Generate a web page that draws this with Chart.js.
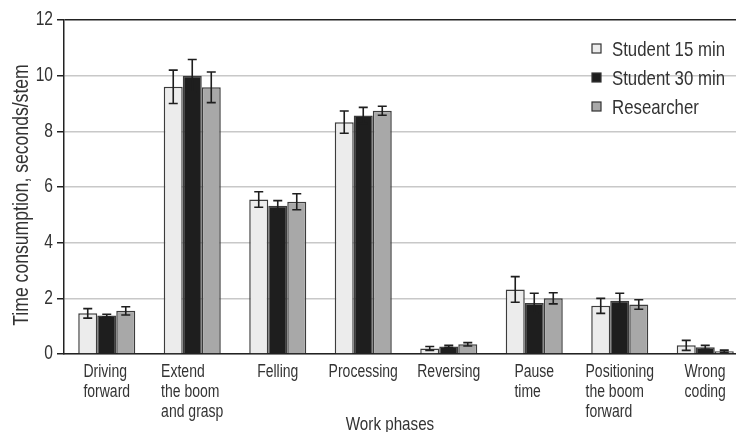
<!DOCTYPE html>
<html>
<head>
<meta charset="utf-8">
<script src="https://cdn.jsdelivr.net/npm/chart.js@4.4.1/dist/chart.umd.min.js"></script>
<style>
  html, body { margin: 0; padding: 0; overflow: hidden; background: #fff; }
</style>
</head>
<body>
<canvas id="chart" width="750" height="432"></canvas>
<script>
const FONT = '"Liberation Sans", Arial, sans-serif';
const NARROW = 0.8;   // condensed look of the original typeface
const INK = '#333333';

const phases = [
    ['Driving', 'forward'],
    ['Extend', 'the boom', 'and grasp'],
    ['Felling'],
    ['Processing'],
    ['Reversing'],
    ['Pause', 'time'],
    ['Positioning', 'the boom', 'forward'],
    ['Wrong', 'coding']
];
const student15 = [1.46, 9.6, 5.55, 8.33, 0.2, 2.32, 1.73, 0.31];
const student15Err = [0.17, 0.6, 0.28, 0.4, 0.07, 0.46, 0.27, 0.18];
const student30 = [1.38, 10.0, 5.33, 8.57, 0.27, 1.83, 1.91, 0.24];
const student30Err = [0.05, 0.58, 0.18, 0.29, 0.04, 0.35, 0.27, 0.07];
const researcher = [1.55, 9.58, 5.47, 8.74, 0.35, 2.0, 1.78, 0.1];
const researcherErr = [0.15, 0.55, 0.29, 0.16, 0.06, 0.2, 0.17, 0.04];
const yTicks = [0, 2, 4, 6, 8, 10, 12];

// narrow text: plain font squeezed horizontally
function narrowText(ctx, text, x, y, size, align, rotate) {
    ctx.save();
    ctx.translate(x, y);
    if (rotate) ctx.rotate(-Math.PI / 2);
    ctx.scale(NARROW, 1);
    ctx.font = size + 'px ' + FONT;
    ctx.textAlign = align;
    ctx.fillText(text, 0, 0);
    ctx.restore();
}
function narrowWidth(ctx, text, size) {
    ctx.save();
    ctx.font = size + 'px ' + FONT;
    const w = ctx.measureText(text).width * NARROW;
    ctx.restore();
    return w;
}

const errorBars = {
    id: 'errorBars',
    afterDatasetsDraw(chart) {
        const ctx = chart.ctx;
        const y = chart.scales.y;
        ctx.save();
        ctx.strokeStyle = '#1e1e1e';
        ctx.lineWidth = 1.6;
        chart.data.datasets.forEach((ds, i) => {
            const meta = chart.getDatasetMeta(i);
            meta.data.forEach((bar, j) => {
                const v = ds.data[j], e = ds.errors[j];
                const top = y.getPixelForValue(v + e);
                const bot = y.getPixelForValue(Math.max(v - e, 0));
                ctx.beginPath();
                ctx.moveTo(bar.x, top);
                ctx.lineTo(bar.x, bot);
                ctx.moveTo(bar.x - 4.5, top);
                ctx.lineTo(bar.x + 4.5, top);
                ctx.moveTo(bar.x - 4.5, bot);
                ctx.lineTo(bar.x + 4.5, bot);
                ctx.stroke();
            });
        });
        ctx.restore();
    }
};

const axisText = {
    id: 'axisText',
    afterDraw(chart) {
        const ctx = chart.ctx;
        const x = chart.scales.x;
        const y = chart.scales.y;
        ctx.save();
        ctx.fillStyle = INK;
        ctx.textBaseline = 'alphabetic';
        // category labels, lines left aligned, block centred under the group
        phases.forEach((lines, i) => {
            const w = Math.max(...lines.map(l => narrowWidth(ctx, l, 17.5)));
            const left = x.getPixelForValue(i) - w / 2;
            lines.forEach((l, k) => narrowText(ctx, l, left, 377 + k * 20, 17.5, 'left'));
        });
        // y tick labels
        ctx.textBaseline = 'middle';
        yTicks.forEach(v => narrowText(ctx, String(v), 53, y.getPixelForValue(v), 19.5, 'right'));
        // axis titles
        ctx.textBaseline = 'alphabetic';
        narrowText(ctx, 'Work phases', 390, 430, 19, 'center');
        narrowText(ctx, 'Time consumption, seconds/stem', 28, 195, 22, 'center', true);
        ctx.restore();
    }
};

const legendBox = {
    id: 'legendBox',
    afterDraw(chart) {
        const ctx = chart.ctx;
        ctx.save();
        ctx.textBaseline = 'alphabetic';
        chart.data.datasets.forEach((ds, i) => {
            const base = 56 + i * 29;
            const cy = base - 7.5;
            ctx.fillStyle = ds.backgroundColor;
            ctx.fillRect(592, cy - 4.5, 9, 9);
            ctx.strokeStyle = '#333';
            ctx.lineWidth = 1.2;
            ctx.strokeRect(592, cy - 4.5, 9, 9);
            ctx.fillStyle = INK;
            narrowText(ctx, ds.label, 612, base, 21, 'left');
        });
        ctx.restore();
    }
};

new Chart(document.getElementById('chart'), {
    type: 'bar',
    data: {
        labels: phases,
        datasets: [{
            label: 'Student 15 min',
            data: student15,
            errors: student15Err,
            backgroundColor: '#ececec',
            borderColor: '#3c3c3c',
            borderWidth: 1.5
        }, {
            label: 'Student 30 min',
            data: student30,
            errors: student30Err,
            backgroundColor: '#1e1e1e',
            borderColor: '#3c3c3c',
            borderWidth: 1.5
        }, {
            label: 'Researcher',
            data: researcher,
            errors: researcherErr,
            backgroundColor: '#a8a8a8',
            borderColor: '#3c3c3c',
            borderWidth: 1.5
        }]
    },
    options: {
        responsive: false,
        animation: false,
        layout: { padding: { top: 20, right: 2, left: 0, bottom: 0 } },
        datasets: { bar: { categoryPercentage: 0.667, barPercentage: 1 } },
        plugins: {
            legend: { display: false },
            tooltip: { enabled: false }
        },
        scales: {
            x: {
                afterFit: s => { s.height = 78; },
                grid: { display: false },
                border: { color: '#222', width: 1.5 },
                ticks: { display: false }
            },
            y: {
                min: 0,
                max: 12,
                afterFit: s => { s.width = 64; },
                afterBuildTicks: s => { s.ticks = yTicks.map(v => ({ value: v })); },
                border: { color: '#222', width: 1.5 },
                grid: {
                    color: c => c.tick && c.tick.value === 12 ? '#222' : '#c8c8c8',
                    lineWidth: 1.5,
                    tickLength: 7,
                    tickColor: '#222'
                },
                ticks: { display: false }
            }
        }
    },
    plugins: [errorBars, axisText, legendBox]
});
</script>
</body>
</html>
